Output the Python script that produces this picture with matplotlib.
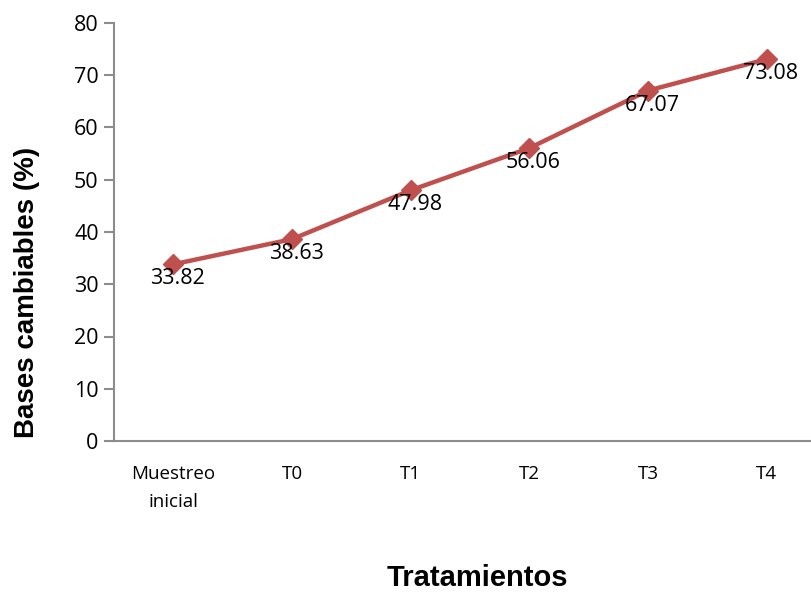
import matplotlib.pyplot as plt

# Data
categories = ['Muestreo\ninicial', 'T0', 'T1', 'T2', 'T3', 'T4']
values = [33.82, 38.63, 47.98, 56.06, 67.07, 73.08]

fig = plt.figure(figsize=(8.12, 5.92), dpi=100)
# axes deliberately run past the right edge, like the original
ax = fig.add_axes([114 / 812, 151 / 592, 712 / 812, 418 / 592])

x = list(range(len(categories)))
ax.plot(x, values, color='#C0504D', linewidth=3.2, marker='D', markersize=10,
        zorder=3)

for xi, v in zip(x, values):
    ax.annotate(f'{v:.2f}', xy=(xi, v), xytext=(3, -3), textcoords='offset points',
                ha='center', va='top', fontsize=15.5, family='Open Sans')

ax.set_xlim(-0.5, 5.5)
ax.set_ylim(0, 80)
ax.set_yticks(range(0, 81, 10))
ax.set_xticks(x)
ax.set_xticklabels(categories, family='Open Sans', fontsize=13.5, linespacing=1.75)
for lbl in ax.get_yticklabels():
    lbl.set_family('Open Sans')
    lbl.set_fontsize(15.5)

for side in ['top', 'right']:
    ax.spines[side].set_visible(False)
for side in ['left', 'bottom']:
    ax.spines[side].set_color('#8c8c8c')
    ax.spines[side].set_linewidth(1.5)
ax.tick_params(axis='y', direction='out', length=7, width=1.5, color='#8c8c8c', pad=4)
ax.tick_params(axis='x', length=0, pad=17)

fig.text(27 / 812, 1 - 292 / 592, 'Bases cambiables (%)', fontsize=20, fontweight='bold',
         family='Liberation Sans', ha='center', va='center', rotation=90)
fig.text(477 / 812, 1 - 578 / 592, 'Tratamientos', fontsize=21, fontweight='bold',
         family='Liberation Sans', ha='center', va='center')

fig.savefig('out.png', dpi=100)
